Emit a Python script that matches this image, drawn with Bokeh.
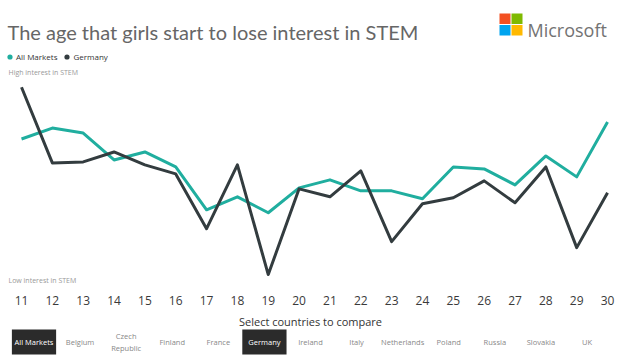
from bokeh.plotting import figure
from bokeh.models import Range1d, FactorRange, FixedTicker, Label, BoxAnnotation, Legend, LegendItem
from bokeh.layouts import column
from bokeh.embed import file_html
from bokeh.resources import INLINE
from bokeh.core.properties import value

# ---------------- data ----------------
ages = list(range(11, 31))
all_markets = [70.5, 76, 73.5, 60, 64, 56.5, 35, 41.5, 33.5, 46,
               50, 44.5, 44.5, 40.5, 56.5, 55.5, 47.5, 62, 51.5, 79]
germany = [96.5, 58.5, 59, 64, 57.5, 53, 25.5, 57.5, 2.5, 45.5,
           41.5, 54.5, 19, 38, 41, 49.5, 38.5, 56.5, 16, 43.5]
countries = ["All Markets", "Belgium", "Czech Republic", "Finland", "France",
             "Germany", "Ireland", "Italy", "Netherlands", "Poland",
             "Russia", "Slovakia", "UK"]
selected = ["All Markets", "Germany"]

TEAL = "#20ae9f"
DARK = "#333c3f"

W, H1, H2 = 620, 307, 48
FRAME_H = H1 - 20
X0, X1 = 10.319, 30.42
Y0, Y1 = -3.5, 140.0


def X(px):
    return X0 + px * (X1 - X0) / W


def Y(py):
    return Y1 - py * (Y1 - Y0) / FRAME_H


# ---------------- main chart ----------------
p = figure(width=W, height=H1, x_range=Range1d(X0, X1), y_range=Range1d(Y0, Y1),
           output_backend="svg", toolbar_location=None, y_axis_location=None,
           min_border_left=0, min_border_right=0, min_border_top=0, min_border_bottom=20)
p.outline_line_color = None
p.xgrid.visible = False
p.ygrid.visible = False
p.xaxis.ticker = FixedTicker(ticks=ages)
p.xaxis.axis_line_color = None
p.xaxis.major_tick_line_color = None
p.xaxis.minor_tick_line_color = None
p.xaxis.major_label_standoff = 3
p.xaxis.major_label_text_font = "Open Sans"
p.xaxis.major_label_text_font_size = "12px"
p.xaxis.major_label_text_color = "#3a3a3a"

p.line(ages, all_markets, line_color=TEAL, line_width=3, line_join="round")
p.line(ages, germany, line_color=DARK, line_width=3, line_join="round")

# legend dots (zero-size markers, legend draws its own glyph)
s1 = p.scatter(ages, all_markets, size=0, fill_color=TEAL, line_color=None)
s2 = p.scatter(ages, germany, size=0, fill_color=DARK, line_color=None)
legend = Legend(items=[LegendItem(label="All Markets", renderers=[s1]),
                       LegendItem(label="Germany", renderers=[s2])],
                orientation="horizontal", location=(3, FRAME_H - 64),
                glyph_width=13, glyph_height=13, label_height=13, label_standoff=0,
                spacing=3, padding=0, margin=0, border_line_color=None,
                background_fill_alpha=0, label_text_font="Open Sans",
                label_text_font_size="8px", label_text_color="#333333")
p.add_layout(legend, "center")

p.add_layout(Label(x=X(7), y=Y(32), text="The age that girls start to lose interest in STEM",
                   text_font="Lato", text_font_size="20px", text_color="#666666",
                   text_baseline="alphabetic"))
p.add_layout(Label(x=X(8), y=Y(72), text="High interest in STEM", text_font="Open Sans",
                   text_font_size="7px", text_color="#999999", text_baseline="middle"))
p.add_layout(Label(x=X(8), y=Y(281), text="Low interest in STEM", text_font="Open Sans",
                   text_font_size="7px", text_color="#999999", text_baseline="middle"))

# Microsoft logo
for (l, r, t, b, c) in [(499, 510, 13, 23.5, "#f25022"), (511, 522, 13, 23.5, "#7fba00"),
                        (499, 510, 24.5, 35, "#00a4ef"), (511, 522, 24.5, 35, "#ffb900")]:
    p.add_layout(BoxAnnotation(left=X(l), right=X(r), top=Y(t), bottom=Y(b),
                               fill_color=c, fill_alpha=1, line_color=None))
p.add_layout(Label(x=X(527), y=Y(30), text="Microsoft", text_font="Open Sans",
                   text_font_size="18px", text_color="#737373", text_baseline="alphabetic"))

# ---------------- country selector ----------------
q = figure(width=W, height=H2,
           x_range=FactorRange(factors=countries, range_padding=0.227, range_padding_units="absolute"),
           y_range=Range1d(H2, 0), output_backend="svg", toolbar_location=None,
           x_axis_location=None, y_axis_location=None, min_border=0)
q.outline_line_color = None
q.xgrid.visible = False
q.ygrid.visible = False

btn_fill = ["#2b2b2b" if c in selected else "white" for c in countries]
btn_text = ["white" if c in selected else "#888888" for c in countries]
btn_labels = [c.replace("Czech ", "Czech\n") for c in countries]
q.rect(x=countries, y=[34.5] * len(countries), width=0.96, height=25,
       fill_color=btn_fill, line_color=None)
q.text(x=countries, y=[34.5] * len(countries), text=btn_labels, text_align="center",
       text_baseline="middle", text_font=value("Open Sans"), text_font_size="7.5px",
       text_color=btn_text)
q.add_layout(Label(x=len(countries) / 2, y=14, text="Select countries to compare",
                   text_font="Open Sans", text_font_size="11px", text_color="#333333",
                   text_align="center", text_baseline="middle"))

layout = column(p, q)
open("out.html", "w").write(file_html(layout, INLINE))
